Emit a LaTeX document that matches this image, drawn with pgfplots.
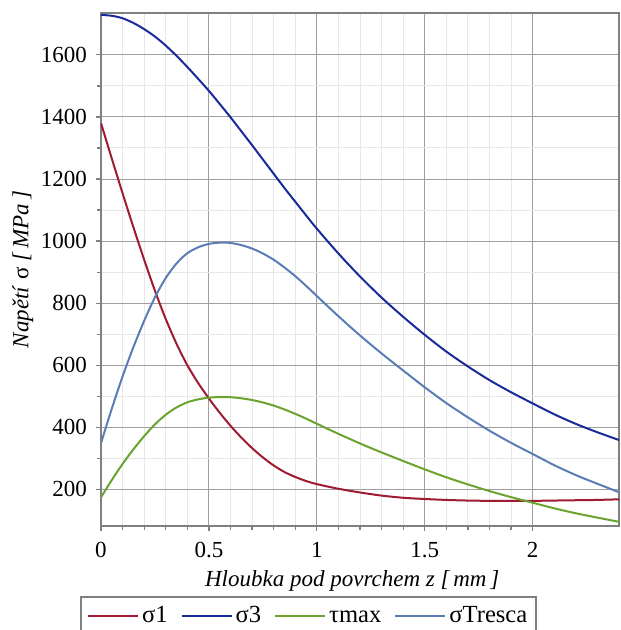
\documentclass[border=0pt]{standalone}
\usepackage{fontspec}
\setmainfont{Liberation Serif}
\usepackage{pgfplots}
\usepackage{pgfplotstable}
\pgfplotsset{compat=1.18}
\definecolor{cS1}{HTML}{9E1B32}
\definecolor{cS3}{HTML}{1A2A9A}
\definecolor{cTau}{HTML}{6BA32E}
\definecolor{cTr}{HTML}{5B7DB5}

% z [mm], sigma1, sigma3, tau_max, sigma_Tresca [MPa]
\pgfplotstableread{
z    s1    s3    tau    tr
0    1380  1729  174.5  349
0.05 1266  1726  230    460
0.1  1154  1718  282    564
0.15 1045  1703  329    658
0.2  940   1683  371.5  743
0.25 840   1659  409.5  819
0.3  749   1630  440.5  881
0.35 669   1597  464    928
0.4  600   1561  480.5  961
0.45 543   1523  490    980
0.5  493   1484  495.5  991
0.55 447   1442  497.5  995
0.6  405   1399  497    994
0.65 367   1354  493.5  987
0.7  333   1309  488    976
0.75 303   1263  480    960
0.8  277   1217  470    940
0.85 256   1171  457.5  915
0.9  240   1127  443.5  887
0.95 227   1083  428    856
1.0  217   1040  411.5  823
1.1  202   960   379    758
1.2  190   886   348    696
1.3  180   818   319    638
1.4  173   756   291.5  583
1.5  169   698   264.5  529
1.6  166   644   239    478
1.7  164   596   216    432
1.8  163   552   194.5  389
1.9  163   513   175    350
2.0  163   477   157    314
2.1  164   442   139    278
2.2  165   411   123    246
2.3  166   384   109    218
2.4  168   359   95.5   191
}\stress

\begin{document}
\begin{tikzpicture}
\begin{axis}[
  name=ax,
  scale only axis,
  width=259pt, height=256.5pt,
  xmin=0, xmax=2.4, ymin=82, ymax=1735,
  xtick={0,0.5,1,1.5,2},
  ytick={200,400,600,800,1000,1200,1400,1600},
  minor x tick num=4,
  minor y tick num=1,
  grid=both,
  major grid style={gray!75, line width=0.5pt},
  minor grid style={gray!18, line width=0.5pt},
  axis line style={gray, line width=1.2pt},
  tick pos=left,
  tick align=outside,
  major tick length=2.5pt,
  minor tick length=2pt,
  tick style={gray, line width=0.6pt},
  font=\fontsize{11.5}{13}\selectfont,
  /pgf/number format/assume math mode=true,
  /pgf/number format/1000 sep={},
  yticklabel style={xshift=-1pt},
  xticklabel style={yshift=-2pt},
  xlabel={\textit{Hloubka pod povrchem z [\,mm\,]}},
  ylabel={\textit{Napětí} σ \textit{[\,MPa\,]}},
  xlabel style={at={(axis description cs:0.485,-0.107)}, anchor=center},
  ylabel style={at={(axis description cs:-0.151,0.5)}, anchor=center, rotate=0},
  legend columns=4,
  legend style={at={(axis description cs:-0.0405,-0.136)}, anchor=north west,
    draw=gray, line width=1pt, fill=white,
    font=\fontsize{12.3}{14}\selectfont,
    inner ysep=4pt,
    nodes={inner sep=1.5pt, text height=1.6ex, text depth=0.3ex},
    /tikz/every even column/.append style={column sep=5pt}},
  legend image code/.code={\draw[#1, line width=1pt] (0pt,0pt) -- (25pt,0pt);},
  every axis plot/.append style={line width=1pt, smooth, no marks},
]
\addplot[cS1] table[x=z, y=s1] {\stress};
\addlegendentry{σ1}
\addplot[cS3] table[x=z, y=s3] {\stress};
\addlegendentry{σ3}
\addplot[cTau] table[x=z, y=tau] {\stress};
\addlegendentry{τmax}
\addplot[cTr] table[x=z, y=tr] {\stress};
\addlegendentry{σTresca}
\end{axis}
\pgfresetboundingbox
\path[use as bounding box] ([shift={(-50.5pt,-52pt)}]ax.south west) rectangle ([shift={(0.5pt,6.5pt)}]ax.north east);
\end{tikzpicture}
\end{document}
